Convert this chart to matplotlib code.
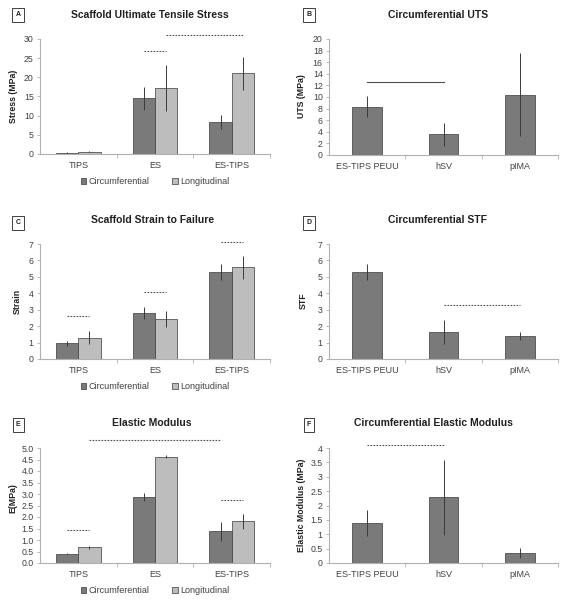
import numpy as np
import matplotlib
matplotlib.use("Agg")
import matplotlib.pyplot as plt

plt.rcParams['font.family'] = ['Liberation Sans', 'DejaVu Sans']

# --- Données ---
scaffolds = ["TIPS", "ES", "ES-TIPS"]
vaisseaux = ["ES-TIPS PEUU", "hSV", "pIMA"]

uts_circ = [0.3, 14.5, 8.3]
uts_circ_err = [0.1, 3.0, 1.8]
uts_long = [0.6, 17.2, 21.0]
uts_long_err = [0.2, 6.0, 4.2]

uts_vaiss = [8.3, 3.6, 10.4]
uts_vaiss_err = [1.8, 2.0, 7.2]

stf_circ = [0.95, 2.8, 5.3]
stf_circ_err = [0.15, 0.35, 0.5]
stf_long = [1.3, 2.45, 5.6]
stf_long_err = [0.4, 0.5, 0.7]

stf_vaiss = [5.3, 1.65, 1.42]
stf_vaiss_err = [0.5, 0.75, 0.25]

mod_circ = [0.4, 2.88, 1.38]
mod_circ_err = [0.03, 0.17, 0.42]
mod_long = [0.68, 4.63, 1.82]
mod_long_err = [0.08, 0.05, 0.32]

mod_vaiss = [1.38, 2.28, 0.35]
mod_vaiss_err = [0.45, 1.32, 0.18]

W, H = 571, 600
SOMBRE = "#7a7a7a"
CLAIR = "#bdbdbd"
BORD = "#3a3a3a"
TEXTE = "#404040"

fig = plt.figure(figsize=(W / 100, H / 100), dpi=100)


def px(x, y):
    return x / W, 1 - y / H


def creer_axe(gauche, haut, droite, bas):
    ax = fig.add_axes([gauche / W, 1 - bas / H, (droite - gauche) / W, (bas - haut) / H])
    for s in ["top", "right"]:
        ax.spines[s].set_visible(False)
    for s in ["left", "bottom"]:
        ax.spines[s].set_color("#b0b0b0")
        ax.spines[s].set_linewidth(0.8)
    ax.tick_params(axis="y", labelsize=6.3, colors="#b0b0b0", labelcolor=TEXTE,
                   length=2.5, width=0.6, pad=2)
    ax.set_xlim(-0.5, 2.5)
    ax.set_xticks([0.5, 1.5, 2.5], minor=False)
    ax.set_xticks([0, 1, 2], minor=True)
    ax.tick_params(axis="x", which="major", length=3, colors="#b0b0b0",
                   labelbottom=False, width=0.6)
    ax.tick_params(axis="x", which="minor", length=0, labelsize=6.5,
                   labelcolor=TEXTE, pad=5)
    return ax


def titre(x, y, texte, lettre, lx, ly):
    fig.text(*px(x, y), texte, ha="center", va="center", fontsize=7.5,
             fontweight="bold", color="#202020")
    fig.text(*px(lx, ly), lettre, ha="center", va="center", fontsize=5,
             fontweight="bold", color="#202020",
             bbox=dict(boxstyle="square,pad=0.45", fc="white", ec="#202020", lw=0.6))


def ylabel(x, y, texte):
    fig.text(*px(x, y), texte, ha="center", va="center", rotation=90,
             fontsize=6.3, fontweight="bold", color="#202020")


def barres_doubles(ax, circ, circ_err, lon, lon_err):
    x = np.arange(3)
    w = 0.29
    ax.bar(x - w / 2, circ, w, color=SOMBRE, edgecolor=BORD, linewidth=0.5,
           yerr=circ_err, error_kw=dict(ecolor=BORD, elinewidth=0.7, capsize=0),
           label="Circumferential", zorder=2)
    ax.bar(x + w / 2, lon, w, color=CLAIR, edgecolor=BORD, linewidth=0.5,
           yerr=lon_err, error_kw=dict(ecolor=BORD, elinewidth=0.7, capsize=0),
           label="Longitudinal", zorder=2)
    ax.set_xticklabels([], minor=False)
    ax.set_xticklabels(scaffolds, minor=True)
    return w


def barres_simples(ax, vals, errs):
    x = np.arange(3)
    ax.bar(x, vals, 0.39, color=SOMBRE, edgecolor=BORD, linewidth=0.5,
           yerr=errs, error_kw=dict(ecolor=BORD, elinewidth=0.7, capsize=0), zorder=2)
    ax.set_xticklabels(vaisseaux, minor=True)


def ligne(ax, x0, x1, y, pointille=True):
    ls = (0, (1.5, 1.2)) if pointille else "-"
    ax.plot([x0, x1], [y, y], color="#505050", lw=0.8, ls=ls, clip_on=False, zorder=3)


def legende(ax, y):
    ax.legend(loc="upper center", bbox_to_anchor=(0.5, y), ncol=2, frameon=False,
              fontsize=6.5, handlelength=0.6, handleheight=0.6, handletextpad=0.3,
              columnspacing=2.5, labelcolor=TEXTE)


w = 0.29

# --- A ---
ax = creer_axe(40, 39, 270, 154)
barres_doubles(ax, uts_circ, uts_circ_err, uts_long, uts_long_err)
ax.set_ylim(0, 30)
ax.set_yticks(range(0, 31, 5))
ligne(ax, 1 - w / 2, 1 + w / 2, 27)
ligne(ax, 1 + w / 2, 2 + w / 2, 31)
legende(ax, -0.13)
titre(150, 15, "Scaffold Ultimate Tensile Stress", "A", 18, 15)
ylabel(14, 96, "Stress (MPa)")

# --- B ---
ax = creer_axe(329, 39, 558, 155)
barres_simples(ax, uts_vaiss, uts_vaiss_err)
ax.set_ylim(0, 20)
ax.set_yticks(range(0, 21, 2))
ligne(ax, 0, 1, 12.5, pointille=False)
titre(438, 15, "Circumferential UTS", "B", 309, 15)
ylabel(301, 96, "UTS (MPa)")

# --- C ---
ax = creer_axe(40, 244, 270, 359)
barres_doubles(ax, stf_circ, stf_circ_err, stf_long, stf_long_err)
ax.set_ylim(0, 7)
ax.set_yticks(range(0, 8))
ligne(ax, 0 - w / 2, 0 + w / 2, 2.6)
ligne(ax, 1 - w / 2, 1 + w / 2, 4.05)
ligne(ax, 2 - w / 2, 2 + w / 2, 7.15)
legende(ax, -0.13)
titre(153, 220, "Scaffold Strain to Failure", "C", 18, 223)
ylabel(17, 301, "Strain")

# --- D ---
ax = creer_axe(329, 244, 558, 359)
barres_simples(ax, stf_vaiss, stf_vaiss_err)
ax.set_ylim(0, 7)
ax.set_yticks(range(0, 8))
ligne(ax, 1, 2, 3.3)
titre(438, 220, "Circumferential STF", "D", 309, 223)
ylabel(303, 301, "STF")

# --- E ---
ax = creer_axe(40, 448, 270, 563)
barres_doubles(ax, mod_circ, mod_circ_err, mod_long, mod_long_err)
ax.set_ylim(0, 5)
ax.set_yticks(np.arange(0, 5.01, 0.5))
ax.set_yticklabels([f"{v:.1f}" for v in np.arange(0, 5.01, 0.5)])
ligne(ax, 0 + w / 2, 2 - w / 2, 5.35)
ligne(ax, 0 - w / 2, 0 + w / 2, 1.45)
ligne(ax, 2 - w / 2, 2 + w / 2, 2.75)
legende(ax, -0.13)
titre(152, 423, "Elastic Modulus", "E", 18, 425)
ylabel(13, 498, "E(MPa)")

# --- F ---
ax = creer_axe(329, 448, 558, 563)
barres_simples(ax, mod_vaiss, mod_vaiss_err)
ax.set_ylim(0, 4)
ax.set_yticks(np.arange(0, 4.01, 0.5))
ax.set_yticklabels([f"{v:g}" for v in np.arange(0, 4.01, 0.5)])
ligne(ax, 0, 1, 4.1)
titre(433, 423, "Circumferential Elastic Modulus", "F", 309, 425)
ylabel(301, 505, "Elastic Modulus (MPa)")

fig.savefig("out.png", dpi=100, facecolor="white")
